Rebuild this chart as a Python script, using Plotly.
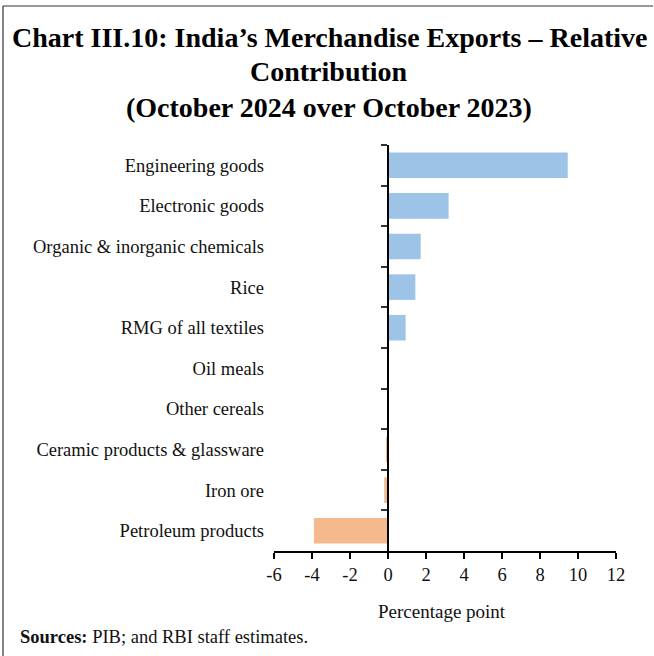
import plotly.graph_objects as go

# Contribution to merchandise export growth, October 2024 over October 2023
categories = [
    "Engineering goods",
    "Electronic goods",
    "Organic & inorganic chemicals",
    "Rice",
    "RMG of all textiles",
    "Oil meals",
    "Other cereals",
    "Ceramic products & glassware",
    "Iron ore",
    "Petroleum products",
]
contribution = [9.46, 3.19, 1.72, 1.44, 0.93, 0.02, 0.01, -0.1, -0.2, -3.9]
x_ticks = [-6, -4, -2, 0, 2, 4, 6, 8, 10, 12]

POS = "#9DC3E6"
NEG = "#F4B98C"
colors = [POS if v >= 0 else NEG for v in contribution]

serif = "Liberation Serif"

fig = go.Figure()
fig.add_trace(go.Bar(
    x=contribution,
    y=categories,
    yaxis="y2",
    orientation="h",
    marker=dict(color=colors, line=dict(width=0)),
    width=0.63,
    hoverinfo="x+y",
))
# invisible trace so the label axis renders
fig.add_trace(go.Bar(
    x=[0] * len(categories), y=categories, orientation="h",
    marker=dict(color="rgba(0,0,0,0)"), showlegend=False, hoverinfo="skip",
))

W, H = 654, 656
ml, mr, mt, mb = 274, 38, 145, 105
pw, ph = W - ml - mr, H - mt - mb


def px(xp):
    return (xp - ml) / pw


def py(yp):
    return (H - mb - yp) / ph


zero_pos = (0 - x_ticks[0]) / (x_ticks[-1] - x_ticks[0])

fig.update_layout(
    width=W, height=H,
    margin=dict(l=ml, r=mr, t=mt, b=mb),
    paper_bgcolor="white", plot_bgcolor="white",
    showlegend=False,
    barmode="overlay",
    font=dict(family=serif, size=18.5, color="#111111"),
    xaxis=dict(
        range=[x_ticks[0], x_ticks[-1]],
        tickvals=x_ticks,
        ticktext=[str(t) for t in x_ticks],
        showgrid=False, zeroline=False,
        showline=True, linecolor="black", linewidth=2,
        ticks="outside", ticklen=6, tickwidth=1.5, tickcolor="black",
        tickfont=dict(family=serif, size=18.5),
        fixedrange=True,
    ),
    yaxis=dict(
        categoryorder="array", categoryarray=categories,
        autorange="reversed",
        showgrid=False, zeroline=False, showline=False,
        ticks="", ticklabelstandoff=9,
        tickfont=dict(family=serif, size=18.5),
        fixedrange=True,
    ),
    yaxis2=dict(
        categoryorder="array", categoryarray=categories,
        autorange="reversed",
        overlaying="y", anchor="free", position=zero_pos,
        showgrid=False, zeroline=False,
        showline=True, linecolor="black", linewidth=2,
        ticks="outside", tickson="boundaries", ticklen=6,
        tickwidth=1.5, tickcolor="#333333",
        showticklabels=False,
        fixedrange=True,
    ),
)

title_lines = [
    "Chart III.10: India’s Merchandise Exports – Relative",
    "Contribution",
    "(October 2024 over October 2023)",
]
title_y = [37, 72, 107]
for text, yy in zip(title_lines, title_y):
    fig.add_annotation(
        text=f"<b>{text}</b>", xref="paper", yref="paper",
        x=px(329), y=py(yy), xanchor="center", yanchor="middle",
        showarrow=False, font=dict(family=serif, size=28, color="black"),
    )

fig.add_annotation(
    text="Percentage point", xref="paper", yref="paper",
    x=px(442), y=py(611), xanchor="center", yanchor="middle",
    showarrow=False, font=dict(family=serif, size=19, color="#111111"),
)
fig.add_annotation(
    text="<b>Sources:</b> PIB; and RBI staff estimates.",
    xref="paper", yref="paper",
    x=px(18), y=py(637), xanchor="left", yanchor="middle",
    showarrow=False, font=dict(family=serif, size=18.5, color="#111111"),
)

# frame around the chart
fig.add_shape(type="line", xref="paper", yref="paper",
              x0=px(3), x1=px(653), y0=py(6), y1=py(6),
              line=dict(color="#333333", width=1.2))
fig.add_shape(type="line", xref="paper", yref="paper",
              x0=px(3), x1=px(3), y0=py(6), y1=py(660),
              line=dict(color="#333333", width=1.2))

fig.write_html("out.html")
